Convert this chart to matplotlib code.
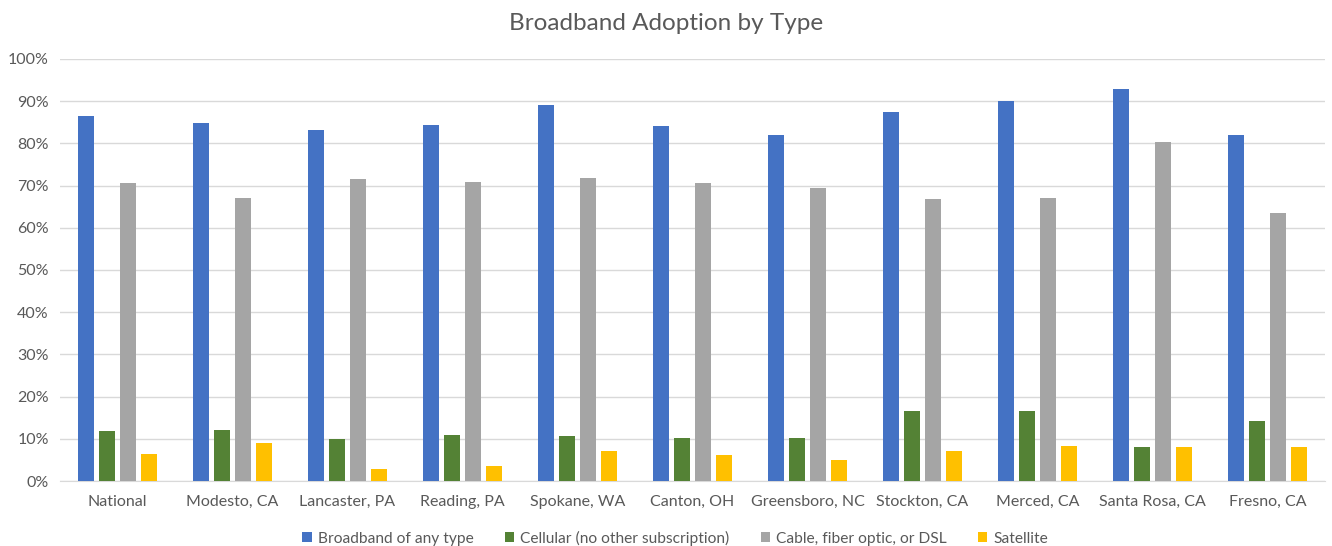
import numpy as np
import matplotlib.pyplot as plt
from matplotlib.ticker import PercentFormatter

plt.rcParams['font.family'] = ['Lato', 'DejaVu Sans']

cities = ['National', 'Modesto, CA', 'Lancaster, PA', 'Reading, PA', 'Spokane, WA',
          'Canton, OH', 'Greensboro, NC', 'Stockton, CA', 'Merced, CA',
          'Santa Rosa, CA', 'Fresno, CA']
broadband_any = [86.4, 84.8, 83.2, 84.3, 89.1, 84.0, 82.1, 87.4, 90.1, 93.0, 82.0]
cellular_only = [11.8, 12.0, 9.9, 11.0, 10.6, 10.2, 10.2, 16.7, 16.7, 8.0, 14.3]
cable_fiber_dsl = [70.7, 67.0, 71.5, 70.8, 71.9, 70.7, 69.5, 66.8, 67.0, 80.4, 63.6]
satellite = [6.5, 8.9, 2.8, 3.6, 7.2, 6.1, 4.9, 7.2, 8.4, 8.0, 8.1]

series = [
    ('Broadband of any type', broadband_any, '#4472c4'),
    ('Cellular (no other subscription)', cellular_only, '#548235'),
    ('Cable, fiber optic, or DSL', cable_fiber_dsl, '#a5a5a5'),
    ('Satellite', satellite, '#ffc000'),
]

text_col = '#595959'
fig = plt.figure(figsize=(13.32, 5.46), dpi=100)
ax = fig.add_axes([0.045, 0.119, 0.9497, 0.773])

x = np.arange(len(cities))
step = 0.182
width = 0.139
for i, (name, vals, col) in enumerate(series):
    ax.bar(x + (i - 1.5) * step, np.array(vals) / 100, width, color=col, label=name, zorder=3)

ax.set_xlim(-0.5, len(cities) - 0.5)
ax.set_ylim(0, 1.0)
ax.set_yticks(np.arange(0, 1.01, 0.1))
ax.yaxis.set_major_formatter(PercentFormatter(1.0, decimals=0))
ax.set_xticks(x)
ax.set_xticklabels(cities)
ax.tick_params(axis='both', length=0, labelsize=11.5, colors=text_col)
ax.tick_params(axis='x', pad=10)
ax.tick_params(axis='y', pad=8)
ax.grid(axis='y', color='#d9d9d9', linewidth=1, zorder=0)
for s in ['top', 'right', 'left']:
    ax.spines[s].set_visible(False)
ax.spines['bottom'].set_color('#d9d9d9')

fig.suptitle('Broadband Adoption by Type', y=0.976, fontsize=17.5, color=text_col)
fig.legend(loc='lower center', ncol=4, frameon=False, bbox_to_anchor=(0.507, -0.025),
           fontsize=11.2, labelcolor=text_col, handlelength=0.6, handleheight=0.6,
           handletextpad=0.4, columnspacing=2.0)

fig.savefig('out.png', dpi=100)
